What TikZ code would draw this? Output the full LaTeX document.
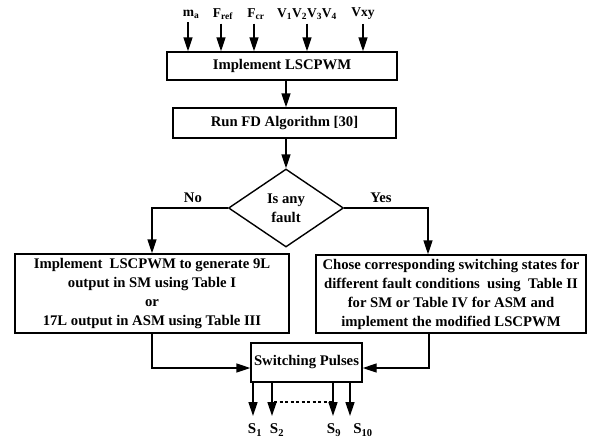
\documentclass[tikz,border=0pt]{standalone}
\usepackage{fontspec}
\setmainfont{Liberation Serif}
\usetikzlibrary{shapes,shapes.geometric}
\usetikzlibrary{arrows,arrows.meta}

\begin{document}
\begin{tikzpicture}[x=1pt, y=-1pt, line width=1.4pt,
    font=\bfseries\fontsize{14.7}{19}\selectfont,
    >={Triangle[length=14pt,width=9pt]},
    blk/.style={draw, rectangle, inner sep=0pt, align=center},
    dec/.style={draw, diamond, aspect=1.47, inner sep=0pt, align=center},
    inp/.style={font=\bfseries\fontsize{13.5}{15}\selectfont},
    outp/.style={font=\bfseries\fontsize{15}{17}\selectfont}]
    \useasboundingbox (0,0) rectangle (592,440);

    % inputs on top
    \node[inp] (ma)   at (191,14) {m\textsubscript{a}};
    \node[inp] (fref) at (223,14) {F\textsubscript{ref}};
    \node[inp] (fcr)  at (256,14) {F\textsubscript{cr}};
    \node[inp] (vv)   at (307,14) {V\textsubscript{1}V\textsubscript{2}V\textsubscript{3}V\textsubscript{4}};
    \node[inp] (vxy)  at (363,14) {Vxy};

    % boxes
    \node[blk, minimum width=230pt, minimum height=28pt] (lscpwm) at (282,66) {Implement LSCPWM};
    \node[blk, minimum width=223pt, minimum height=30pt] (fd) at (284.5,123) {Run FD Algorithm [30]};
    \node[dec, minimum width=115pt, minimum height=78pt] (fault) at (286,208) {Is any\\fault};
    \node[blk, minimum width=274pt, minimum height=79pt] (nofault) at (152,293.5)
        {Implement \ LSCPWM to generate 9L\\output in SM using Table I\\or\\17L output in ASM using Table III};
    \node[blk, minimum width=270pt, minimum height=78pt] (flt) at (451,294)
        {Chose corresponding switching states for\\different fault conditions \ using \ Table II\\for SM or Table IV for ASM and\\implement the modified LSCPWM};
    \node[blk, minimum width=111pt, minimum height=39pt] (sw) at (306.5,362.5) {Switching Pulses};

    % input arrows
    \draw[->] ([xshift=-3pt]ma.south) -- ([xshift=-3pt]ma.south |- lscpwm.north);
    \draw[->] ([xshift=-2pt]fref.south) -- ([xshift=-2pt]fref.south |- lscpwm.north);
    \draw[->] ([xshift=-2pt]fcr.south) -- ([xshift=-2pt]fcr.south |- lscpwm.north);
    \draw[->] (vv.south) -- (vv.south |- lscpwm.north);
    \draw[->] (vxy.south) -- (vxy.south |- lscpwm.north);

    % main flow
    \draw[->] (lscpwm.south -| fault) -- (fd.north -| fault);
    \draw[->] (fd.south -| fault) -- (fault.north);
    \draw[->] (fault.west) -| node[pos=0.23, above=1pt] {No} (nofault.north);
    \draw[->] (fault.east) -| node[pos=0.22, above=1pt] {Yes} ([xshift=-23pt]flt.north);

    % to switching pulses
    \draw[->] (nofault.south) |- ([yshift=-5.5pt]sw.west);
    \draw[->] ([xshift=-22pt]flt.south) |- ([yshift=-5.5pt]sw.east);

    % outputs
    \foreach \n/\x in {1/253, 2/272, 9/333, 10/350} {
        \coordinate (e\n) at (\x,416);
        \draw[->] (sw.south -| e\n) -- (e\n);
    }
    \draw[line width=1.2pt, dash pattern=on 3pt off 2.5pt] ([xshift=2pt, yshift=14pt]e2) -- ([yshift=14pt]e9);
    \node[outp] (s1)  at (255,430) {S\textsubscript{1}};
    \node[outp] (s2)  at (277,430) {S\textsubscript{2}};
    \node[outp] (s9)  at (334,430) {S\textsubscript{9}};
    \node[outp] (s10) at (363,430) {S\textsubscript{10}};

\end{tikzpicture}
\end{document}
